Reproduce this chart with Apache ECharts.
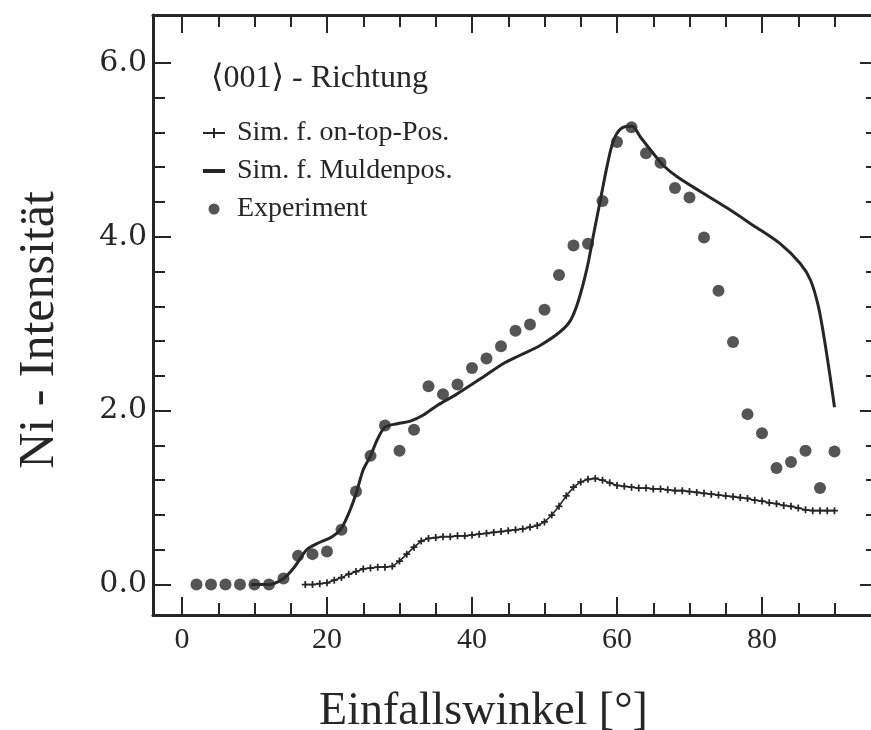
<!DOCTYPE html>
<html>
<head>
<meta charset="utf-8">
<script src="https://cdn.jsdelivr.net/npm/echarts@6/dist/echarts.min.js"></script>
<style>
  html, body { margin: 0; padding: 0; background: #fff; }
  #chart { width: 871px; height: 730px; }
</style>
</head>
<body>
<div id="chart"></div>
<script>
// Ni intensity versus angle of incidence, <001> direction

// Measured intensities (filled circles)
const expAngle = [2, 4, 6, 8, 10, 12, 14, 16, 18, 20, 22, 24, 26, 28, 30, 32, 34, 36, 38, 40,
  42, 44, 46, 48, 50, 52, 54, 56, 58, 60, 62, 64, 66, 68, 70, 72, 74, 76, 78, 80,
  82, 84, 86, 88, 90];
const expIntensity = [0, 0, 0, 0, 0, 0, 0.07, 0.33, 0.35, 0.38, 0.63, 1.07, 1.48, 1.83, 1.54, 1.78, 2.28, 2.19, 2.30, 2.49,
  2.60, 2.74, 2.92, 2.99, 3.16, 3.56, 3.90, 3.92, 4.41, 5.09, 5.26, 4.96, 4.85, 4.56, 4.45, 3.99, 3.38, 2.79, 1.96, 1.74,
  1.34, 1.41, 1.54, 1.11, 1.53];

// Simulation, on-top position (line with + markers)
const onTopAngle = [17, 18, 19, 20, 21, 22, 23, 24, 25, 26, 27, 28, 29, 30, 31, 32, 33, 34, 35, 36,
  37, 38, 39, 40, 41, 42, 43, 44, 45, 46, 47, 48, 49, 50, 51, 52, 53, 54, 55, 56,
  57, 58, 59, 60, 61, 62, 63, 64, 65, 66, 67, 68, 69, 70, 71, 72, 73, 74, 75, 76,
  77, 78, 79, 80, 81, 82, 83, 84, 85, 86, 87, 88, 89, 90];
const onTopIntensity = [0.00, 0.00, 0.01, 0.02, 0.05, 0.08, 0.12, 0.15, 0.18, 0.19, 0.20, 0.20, 0.21, 0.27, 0.35, 0.43, 0.50, 0.53, 0.54, 0.55,
  0.55, 0.56, 0.56, 0.57, 0.58, 0.59, 0.60, 0.61, 0.62, 0.63, 0.64, 0.66, 0.68, 0.72, 0.80, 0.90, 1.02, 1.12, 1.18, 1.21,
  1.22, 1.20, 1.17, 1.14, 1.13, 1.12, 1.11, 1.11, 1.10, 1.10, 1.09, 1.08, 1.08, 1.07, 1.06, 1.05, 1.04, 1.03, 1.02, 1.01,
  1.00, 0.99, 0.97, 0.96, 0.94, 0.93, 0.91, 0.90, 0.88, 0.86, 0.85, 0.85, 0.85, 0.85];

// Simulation, hollow (Mulden) position (solid line)
const muldenAngle = [9.5, 12, 14, 15.4, 17.2, 18.6, 20.7, 22, 23.2, 24.1, 25, 26, 26.9, 28, 29.7, 31.5, 33.3, 35.2, 37.9, 41.6,
  44.5, 46.7, 49.4, 52.2, 53.6, 54.7, 55.9, 56.8, 57.7, 58.6, 59.3, 60, 60.9, 62.1, 63.2, 64.6, 66.4, 68.3, 71.5, 75.2,
  78.8, 82.5, 85.3, 86.7, 87.8, 88.7, 89.4, 90];
const muldenIntensity = [0, 0, 0.07, 0.19, 0.40, 0.47, 0.55, 0.65, 0.86, 1.07, 1.32, 1.48, 1.66, 1.81, 1.85, 1.88, 1.95, 2.06, 2.19, 2.39,
  2.55, 2.64, 2.75, 2.91, 3.04, 3.27, 3.65, 4.04, 4.42, 4.80, 5.05, 5.19, 5.26, 5.27, 5.15, 5.00, 4.82, 4.69, 4.52, 4.33,
  4.13, 3.92, 3.69, 3.50, 3.19, 2.77, 2.39, 2.04];

// Axis ticks
const xMajorTicks = [0, 20, 40, 60, 80];
const xMinorTicks = [5, 10, 15, 25, 30, 35, 45, 50, 55, 65, 70, 75, 85, 90];
const yMajorTicks = [0, 2, 4, 6];
const yMinorTicks = [0.4, 0.8, 1.2, 1.6, 2.4, 2.8, 3.2, 3.6, 4.4, 4.8, 5.2, 5.6];

const INK = '#262626';
const SERIF = '"Liberation Serif", "DejaVu Serif", serif';
const WIDE_SERIF = '"DejaVu Serif", "Liberation Serif", serif';

const toPairs = (xs, ys) => xs.map((x, i) => [x, ys[i]]);

const X_MIN = -4, X_MAX = 96;
const Y_MIN = -0.35, Y_MAX = 6.55;

function xAxisDef(position, ticks, len, withLine, withLabels, extra) {
  return Object.assign({
    type: 'value', position, min: X_MIN, max: X_MAX,
    axisLine: { show: withLine, onZero: false, lineStyle: { color: INK, width: 3 } },
    axisTick: { show: true, inside: true, length: len, customValues: ticks, lineStyle: { color: INK, width: 2 } },
    axisLabel: withLabels
      ? { show: true, customValues: ticks, color: INK, fontFamily: SERIF, fontSize: 30, margin: 10 }
      : { show: false },
    splitLine: { show: false }
  }, extra || {});
}

function yAxisDef(position, ticks, len, withLine, withLabels, extra) {
  return Object.assign({
    type: 'value', position, min: Y_MIN, max: Y_MAX,
    axisLine: { show: withLine, onZero: false, lineStyle: { color: INK, width: 3 } },
    axisTick: { show: true, inside: true, length: len, customValues: ticks, lineStyle: { color: INK, width: 2 } },
    axisLabel: withLabels
      ? { show: true, customValues: ticks, color: INK, fontFamily: WIDE_SERIF, fontSize: 30, margin: 6,
          formatter: v => v.toFixed(1) }
      : { show: false },
    splitLine: { show: false }
  }, extra || {});
}

const plusPath = 'path://M0,4H22V6H0Z M10,0H12V10H10Z';
const markerPlus = 'path://M0,3H8V5H0Z M3,0H5V8H3Z';
const dashPath = 'path://M0,3H22V7H0Z';

const chart = echarts.init(document.getElementById('chart'), null, { renderer: 'canvas' });

chart.setOption({
  backgroundColor: '#ffffff',
  animation: false,
  grid: { left: 153, top: 15, width: 725, height: 600, containLabel: false, outerBoundsMode: 'none' },
  title: {
    text: '\u27E8001\u27E9 - Richtung',
    left: 206, top: 58,
    textStyle: { fontFamily: SERIF, fontSize: 32, fontWeight: 'normal', color: INK }
  },
  legend: {
    orient: 'vertical', left: 198, top: 113,
    itemWidth: 22, itemHeight: 11, itemGap: 8,
    selectedMode: false,
    textStyle: { fontFamily: SERIF, fontSize: 28, color: INK, lineHeight: 30, padding: [0, 0, 0, 7] },
    data: [
      { name: 'Sim. f. on-top-Pos.', icon: plusPath },
      { name: 'Sim. f. Muldenpos.', icon: dashPath },
      { name: 'Experiment', icon: 'circle' }
    ]
  },
  xAxis: [
    xAxisDef('bottom', xMajorTicks, 18, true, true, {
      name: 'Einfallswinkel [°]', nameLocation: 'middle', nameGap: 74,
      nameTextStyle: { fontFamily: SERIF, fontSize: 46, color: INK, padding: [0, 64, 0, 0] }
    }),
    xAxisDef('bottom', xMinorTicks, 12, false, false),
    xAxisDef('top', xMajorTicks, 18, true, false),
    xAxisDef('top', xMinorTicks, 12, false, false)
  ],
  yAxis: [
    yAxisDef('left', yMajorTicks, 18, true, true, {
      name: 'Ni - Intensität', nameLocation: 'middle', nameGap: 88, nameRotate: 90,
      nameTextStyle: { fontFamily: SERIF, fontSize: 50, color: INK, padding: [0, 30, 0, 0] }
    }),
    yAxisDef('left', yMinorTicks, 12, false, false),
    yAxisDef('right', yMajorTicks, 18, true, false),
    yAxisDef('right', yMinorTicks, 12, false, false)
  ],
  series: [
    {
      name: 'Sim. f. on-top-Pos.', type: 'line', xAxisIndex: 0, yAxisIndex: 0,
      data: toPairs(onTopAngle, onTopIntensity),
      symbol: markerPlus, symbolSize: 7, showSymbol: true,
      lineStyle: { color: INK, width: 1.6 },
      itemStyle: { color: INK },
      z: 3
    },
    {
      name: 'Sim. f. Muldenpos.', type: 'line', xAxisIndex: 0, yAxisIndex: 0,
      data: toPairs(muldenAngle, muldenIntensity),
      smooth: 0.3, showSymbol: false, symbol: 'none',
      lineStyle: { color: INK, width: 3 },
      itemStyle: { color: INK },
      z: 4
    },
    {
      name: 'Experiment', type: 'scatter', xAxisIndex: 0, yAxisIndex: 0,
      data: toPairs(expAngle, expIntensity),
      symbol: 'circle', symbolSize: 12,
      itemStyle: { color: '#2a2a2a' },
      z: 5
    }
  ]
});
</script>
</body>
</html>
